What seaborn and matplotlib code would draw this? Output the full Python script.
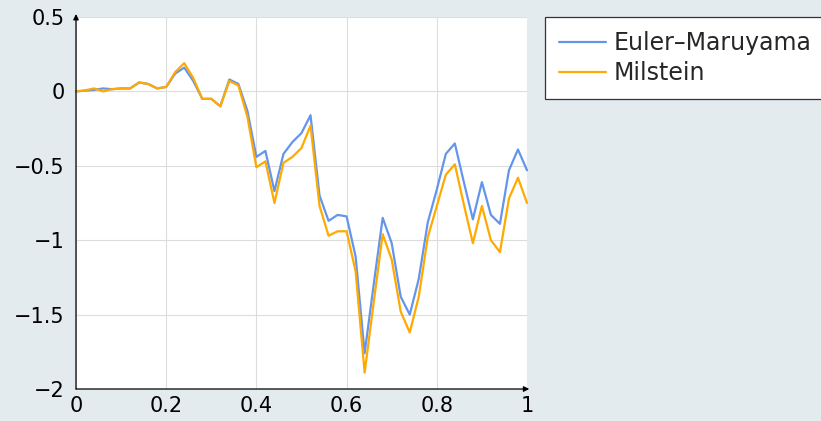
import numpy as np
import pandas as pd
import matplotlib
matplotlib.use("Agg")
import matplotlib.pyplot as plt
import seaborn as sns

# time grid t = 0, 0.02, ..., 1
t = [round(0.02 * i, 2) for i in range(51)]

euler_maruyama = [
    0.0, 0.005, 0.01, 0.02, 0.015, 0.02, 0.02, 0.06, 0.05, 0.02,
    0.03, 0.12, 0.16, 0.07, -0.05, -0.05, -0.10, 0.08, 0.05, -0.13,
    -0.44, -0.40, -0.67, -0.42, -0.34, -0.28, -0.16, -0.70, -0.87, -0.83,
    -0.84, -1.11, -1.76, -1.30, -0.85, -1.02, -1.38, -1.50, -1.26, -0.88,
    -0.66, -0.42, -0.35, -0.61, -0.86, -0.61, -0.83, -0.89, -0.53, -0.39,
    -0.53,
]
milstein = [
    0.0, 0.007, 0.02, 0.0, 0.015, 0.02, 0.02, 0.06, 0.05, 0.02,
    0.03, 0.13, 0.19, 0.09, -0.05, -0.05, -0.10, 0.07, 0.04, -0.17,
    -0.51, -0.47, -0.75, -0.48, -0.44, -0.38, -0.23, -0.77, -0.97, -0.94,
    -0.94, -1.21, -1.89, -1.42, -0.96, -1.13, -1.48, -1.62, -1.38, -0.98,
    -0.77, -0.56, -0.49, -0.76, -1.02, -0.77, -1.00, -1.08, -0.72, -0.58,
    -0.75,
]
series_names = ["Euler–Maruyama", "Milstein"]
colors = ["#6495ED", "#FFAA00"]

x_ticks = [0, 0.2, 0.4, 0.6, 0.8, 1]
x_tick_labels = ["0", "0.2", "0.4", "0.6", "0.8", "1"]
y_ticks = [-2, -1.5, -1, -0.5, 0, 0.5]
y_tick_labels = ["\u22122", "\u22121.5", "\u22121", "\u22120.5", "0", "0.5"]

df = pd.DataFrame({
    "t": t * 2,
    "value": euler_maruyama + milstein,
    "method": [series_names[0]] * len(t) + [series_names[1]] * len(t),
})

sns.set_theme(style="white")
plt.rcParams["font.family"] = ["DejaVu Sans"]

bg = "#e4ebee"
fig = plt.figure(figsize=(8.21, 4.21), dpi=100, facecolor=bg)
ax = fig.add_axes([76 / 821, 1 - 389 / 421, 451 / 821, 372 / 421])
ax.set_facecolor("white")

sns.lineplot(data=df, x="t", y="value", hue="method", palette=colors,
             linewidth=1.6, ax=ax, legend=True, clip_on=False)

ax.set_xlim(0, 1)
ax.set_ylim(-2, 0.5)
ax.set_xticks(x_ticks)
ax.set_xticklabels(x_tick_labels)
ax.set_yticks(y_ticks)
ax.set_yticklabels(y_tick_labels)
ax.set_xlabel("")
ax.set_ylabel("")
ax.grid(True, color="#dddddd", linewidth=0.8)
ax.tick_params(axis="both", direction="in", length=4, width=0.8,
               color="#999999", labelsize=15, labelcolor="black")
ax.tick_params(axis="y", pad=8)
ax.tick_params(axis="x", pad=5)

for s in ax.spines.values():
    s.set_visible(False)

# axis lines with arrow heads
ax.annotate("", xy=(0, 0.52), xytext=(0, -2), xycoords="data",
            arrowprops=dict(arrowstyle="-|>", color="black", lw=0.9,
                            mutation_scale=8, shrinkA=0, shrinkB=0),
            annotation_clip=False)
ax.annotate("", xy=(1.005, -2), xytext=(0, -2), xycoords="data",
            arrowprops=dict(arrowstyle="-|>", color="black", lw=0.9,
                            mutation_scale=8, shrinkA=0, shrinkB=0),
            annotation_clip=False)

handles, labels = ax.get_legend_handles_labels()
leg = ax.legend(handles, labels, loc="upper left",
                bbox_to_anchor=(545 / 821, 1 - 17 / 421),
                bbox_transform=fig.transFigure, frameon=True, fancybox=False,
                fontsize=17, handlelength=2.0, handletextpad=0.3,
                borderpad=0.6, labelspacing=0.25, borderaxespad=0)
leg.get_frame().set_edgecolor("#333333")
leg.get_frame().set_linewidth(0.9)
leg.get_frame().set_facecolor("white")
leg.get_frame().set_alpha(1)

fig.savefig("out.png", dpi=100, facecolor=bg)
